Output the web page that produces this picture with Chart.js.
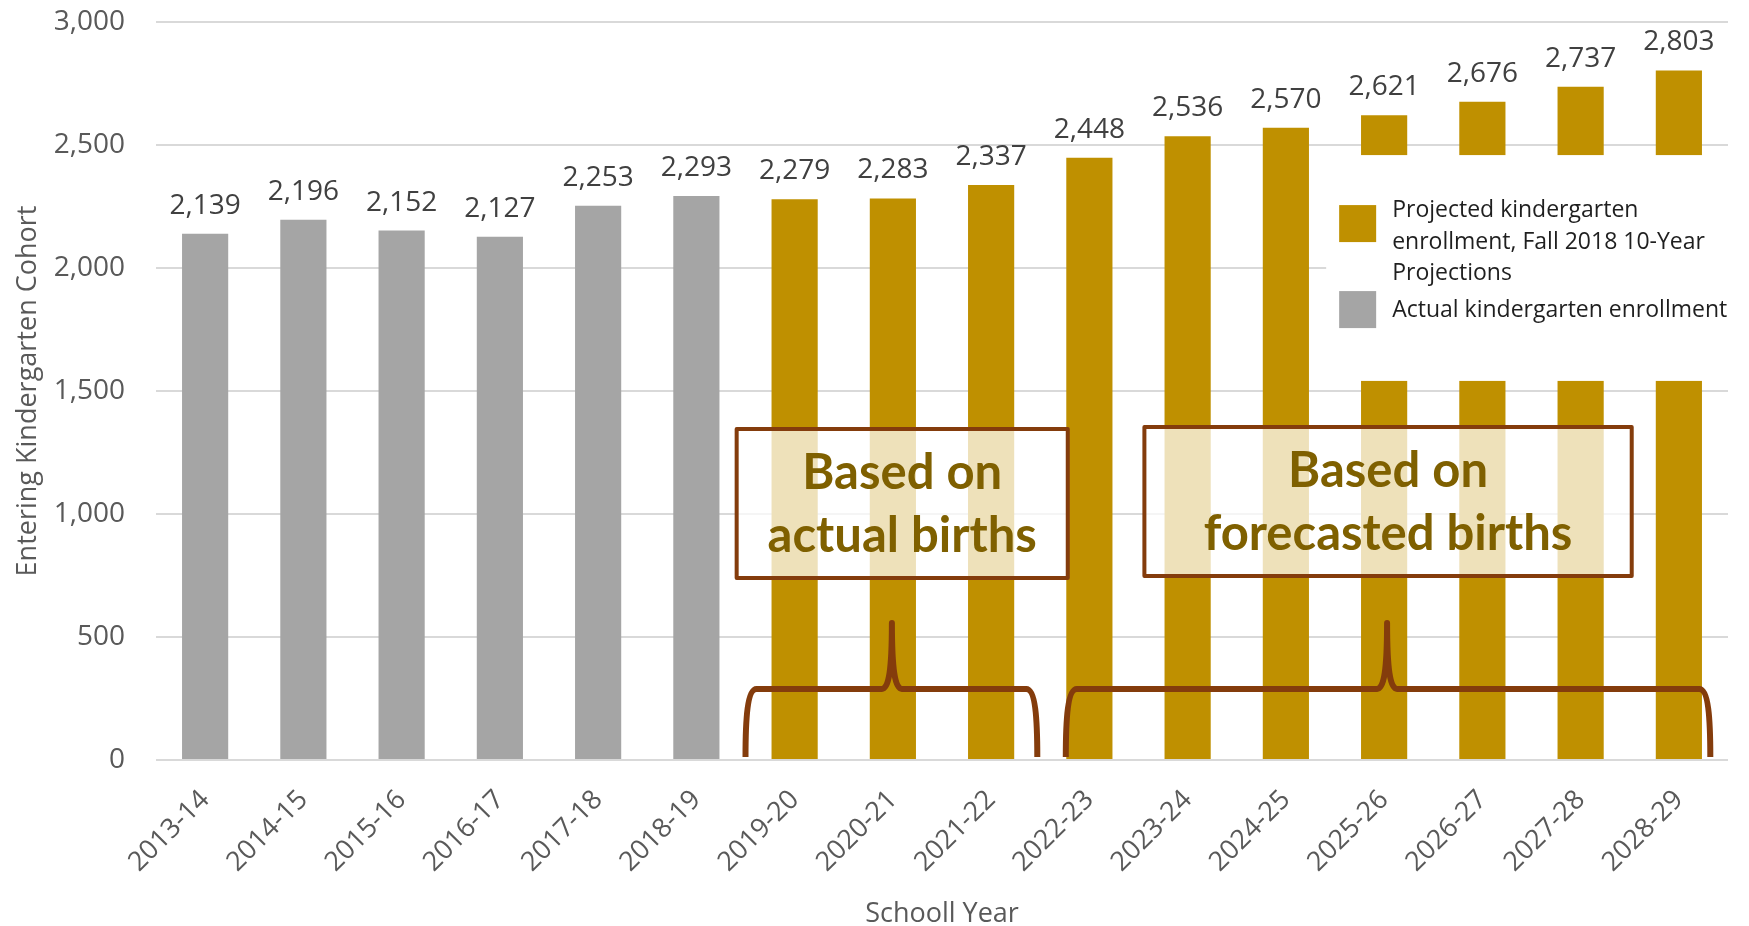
<!DOCTYPE html>
<html>
<head>
<meta charset="utf-8">
<script src="https://cdn.jsdelivr.net/npm/chart.js@4.4.1/dist/chart.umd.min.js"></script>
<style>
  html, body { margin: 0; padding: 0; background: #ffffff; }
</style>
</head>
<body>
<canvas id="chart" width="1749" height="926"></canvas>
<script>
// data
const schoolYears = [
  "2013-14", "2014-15", "2015-16", "2016-17", "2017-18", "2018-19", "2019-20", "2020-21",
  "2021-22", "2022-23", "2023-24", "2024-25", "2025-26", "2026-27", "2027-28", "2028-29",
];
const actualEnrollment = [2139, 2196, 2152, 2127, 2253, 2293, null, null, null, null, null, null, null, null, null, null];
const projectedEnrollment = [null, null, null, null, null, null, 2279, 2283, 2337, 2448, 2536, 2570, 2621, 2676, 2737, 2803];
const yTickValues = [0, 500, 1000, 1500, 2000, 2500, 3000];

const legendLabels = [
  ["Projected kindergarten", "enrollment, Fall 2018 10-Year", "Projections"],
  ["Actual kindergarten enrollment"],
];
const noteLines = [
  ["Based on", "actual births"],
  ["Based on", "forecasted births"],
];

const GOLD = "#BF9000";
const GRAY = "#A5A5A5";
const BROWN = "#843C0C";
const NOTE_TEXT = "#7F6000";
const AXIS_TEXT = "#595959";

const fmt = (v) => v.toLocaleString("en-US");

// value labels above each bar
const barLabels = {
  id: "barLabels",
  afterDatasetsDraw(chart) {
    const ctx = chart.ctx;
    ctx.save();
    ctx.font = "28px 'Open Sans'";
    ctx.fillStyle = "#404040";
    ctx.textAlign = "center";
    ctx.textBaseline = "alphabetic";
    chart.data.datasets.forEach((ds, i) => {
      const meta = chart.getDatasetMeta(i);
      meta.data.forEach((bar, j) => {
        const v = ds.data[j];
        if (v === null) return;
        ctx.fillText(fmt(v), bar.x, bar.y - 20);
      });
    });
    ctx.restore();
  },
};

// legend sits on a white box over the right side of the plot
const boxLegend = {
  id: "boxLegend",
  afterDraw(chart) {
    const ctx = chart.ctx;
    const xs = chart.scales.x;
    const ys = chart.scales.y;
    const left = xs.getPixelForValue(11.41);
    const top = ys.getPixelForValue(2459);
    const bottom = ys.getPixelForValue(1541);
    ctx.save();
    ctx.fillStyle = "#ffffff";
    ctx.fillRect(left, top, chart.width - left, bottom - top);

    const colors = [GOLD, GRAY];
    const squareTops = [top + 50, top + 136];
    const firstBaselines = [top + 62, top + 162];
    ctx.font = "23px 'Open Sans'";
    ctx.textAlign = "left";
    ctx.textBaseline = "alphabetic";
    legendLabels.forEach((lines, i) => {
      ctx.fillStyle = colors[i];
      ctx.fillRect(left + 13, squareTops[i], 37, 37);
      ctx.fillStyle = "#1f1f1f";
      lines.forEach((line, k) => {
        ctx.fillText(line, left + 66, firstBaselines[i] + k * 31.5);
      });
    });
    ctx.restore();
  },
};

// the two "Based on ..." boxes and the braces under them
const notes = {
  id: "notes",
  afterDraw(chart) {
    const ctx = chart.ctx;
    const xs = chart.scales.x;
    const ys = chart.scales.y;
    const boxes = [
      { x0: 5.41, x1: 8.78, y0: 1346, y1: 740 },
      { x0: 9.56, x1: 14.52, y0: 1354, y1: 748 },
    ];
    const braces = [
      { x0: 5.5, x1: 8.47, peak: 6.99 },
      { x0: 8.76, x1: 15.32, peak: 12.03 },
    ];
    ctx.save();
    boxes.forEach((b, i) => {
      const l = xs.getPixelForValue(b.x0);
      const r = xs.getPixelForValue(b.x1);
      const t = ys.getPixelForValue(b.y0);
      const btm = ys.getPixelForValue(b.y1);
      ctx.fillStyle = "rgba(255,255,255,0.73)";
      ctx.fillRect(l, t, r - l, btm - t);
      ctx.strokeStyle = BROWN;
      ctx.lineWidth = 4;
      ctx.lineJoin = "round";
      ctx.strokeRect(l, t, r - l, btm - t);
      ctx.fillStyle = NOTE_TEXT;
      ctx.font = "bold 49px Lato";
      ctx.textAlign = "center";
      ctx.textBaseline = "alphabetic";
      const cx = (l + r) / 2;
      ctx.fillText(noteLines[i][0], cx, t + 60);
      ctx.fillText(noteLines[i][1], cx, t + 123);
    });

    const yBar = ys.getPixelForValue(289);
    const yTop = ys.getPixelForValue(557);
    const yEnd = ys.getPixelForValue(12);
    ctx.strokeStyle = BROWN;
    ctx.lineWidth = 6;
    ctx.lineCap = "butt";
    ctx.lineJoin = "round";
    braces.forEach((b) => {
      const l = xs.getPixelForValue(b.x0);
      const r = xs.getPixelForValue(b.x1);
      const p = xs.getPixelForValue(b.peak);
      ctx.beginPath();
      ctx.moveTo(l, yEnd);
      ctx.bezierCurveTo(l, yBar + 30, l + 2, yBar, l + 11, yBar);
      ctx.lineTo(p - 10, yBar);
      ctx.bezierCurveTo(p - 3, yBar, p, yBar - 20, p, yTop);
      ctx.bezierCurveTo(p, yBar - 20, p + 3, yBar, p + 10, yBar);
      ctx.lineTo(r - 11, yBar);
      ctx.bezierCurveTo(r - 2, yBar, r, yBar + 30, r, yEnd);
      ctx.stroke();
    });
    ctx.restore();
  },
};

const ctx = document.getElementById("chart").getContext("2d");
new Chart(ctx, {
  type: "bar",
  data: {
    labels: schoolYears,
    datasets: [
      {
        label: "Projected kindergarten enrollment, Fall 2018 10-Year Projections",
        data: projectedEnrollment,
        backgroundColor: GOLD,
        barPercentage: 0.47,
        categoryPercentage: 1,
      },
      {
        label: "Actual kindergarten enrollment",
        data: actualEnrollment,
        backgroundColor: GRAY,
        barPercentage: 0.47,
        categoryPercentage: 1,
      },
    ],
  },
  options: {
    responsive: false,
    animation: false,
    layout: {
      padding: { top: 22, right: 21, left: 0, bottom: 0 },
    },
    plugins: {
      legend: { display: false },
      tooltip: { enabled: false },
    },
    scales: {
      x: {
        stacked: true,
        grid: { display: false, drawTicks: false },
        border: { display: false },
        ticks: {
          font: { family: "Open Sans", size: 27 },
          color: AXIS_TEXT,
          minRotation: 45,
          maxRotation: 45,
          padding: 24,
        },
        title: {
          display: true,
          text: "Schooll Year",
          font: { family: "Open Sans", size: 27, lineHeight: 0.9 },
          color: AXIS_TEXT,
          padding: 0,
        },
        afterFit: (scale) => {
          scale.height = 166;
        },
      },
      y: {
        stacked: true,
        min: 0,
        max: 3000,
        afterBuildTicks: (scale) => {
          scale.ticks = yTickValues.map((v) => ({ value: v }));
        },
        grid: { color: "#D9D9D9", lineWidth: 2, drawTicks: false },
        border: { display: false },
        ticks: {
          font: { family: "Open Sans", size: 28 },
          color: AXIS_TEXT,
          padding: 31,
          callback: (v) => fmt(v),
        },
        title: {
          display: true,
          text: "Entering Kindergarten Cohort",
          font: { family: "Open Sans", size: 27 },
          color: AXIS_TEXT,
          padding: { top: 12, bottom: 0 },
        },
        afterFit: (scale) => {
          scale.width = 156;
          scale.paddingTop = 0;
          scale.paddingBottom = 0;
        },
      },
    },
  },
  plugins: [barLabels, boxLegend, notes],
});
</script>
</body>
</html>
